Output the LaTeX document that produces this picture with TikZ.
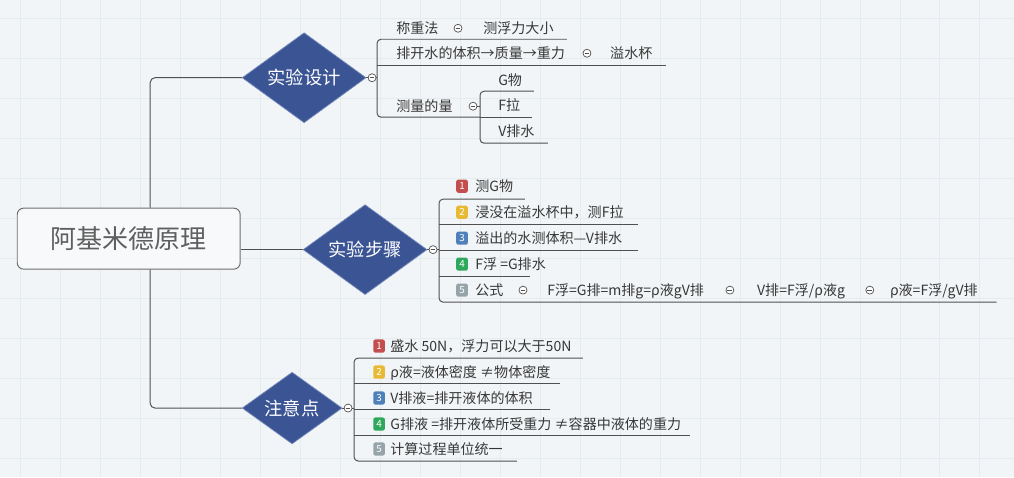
\documentclass[tikz,border=0pt]{standalone}
\usepackage{fontspec}
\setmainfont{Noto Sans CJK SC}
\usetikzlibrary{shapes.geometric}
\definecolor{bg}{RGB}{242,245,247}
\definecolor{gridc}{RGB}{230,235,239}
\definecolor{ln}{RGB}{80,80,80}
\definecolor{txt}{RGB}{55,55,55}
\definecolor{rootfill}{RGB}{247,249,250}
\definecolor{rootline}{RGB}{110,110,110}
\definecolor{roottxt}{RGB}{95,95,95}
\definecolor{dia}{RGB}{59,84,148}
\definecolor{diab}{RGB}{120,140,190}
\definecolor{bred}{RGB}{196,78,78}
\definecolor{byel}{RGB}{232,186,52}
\definecolor{bblu}{RGB}{80,128,186}
\definecolor{bgrn}{RGB}{46,168,92}
\definecolor{bgry}{RGB}{150,163,168}
\tikzset{
  conn/.style={draw=ln, line width=0.7pt},
  lbl/.style={anchor=base west, inner sep=0pt, text=txt, font=\fontsize{10pt}{12pt}\selectfont},
  rootbox/.style={draw=rootline, fill=rootfill, rounded corners=0.16cm, line width=0.7pt,
    minimum width=5.575cm, minimum height=1.525cm, text=roottxt, font=\fontsize{18.5pt}{22pt}\selectfont},
  diabox/.style={diamond, draw=diab, fill=dia, line width=0.5pt, inner sep=0pt, text=white,
    font=\fontsize{13pt}{15pt}\selectfont},
  col/.style={circle, draw=ln, fill=white, line width=0.5pt, minimum size=0.2cm, inner sep=0pt,
    path picture={\draw[ln, line width=0.5pt] ([xshift=-1.7pt]path picture bounding box.center) -- ([xshift=1.7pt]path picture bounding box.center);}},
  badge/.style={rectangle, rounded corners=1.5pt, fill=#1, minimum width=0.29cm, minimum height=0.33cm,
    inner sep=0pt, text=white, font=\fontsize{7pt}{7pt}\selectfont}
}
\begin{document}
\begin{tikzpicture}[x=0.025cm, y=-0.025cm]
\fill[bg] (0,0) rectangle (1014,477);
\foreach \gx in {20,60,...,1000} \draw[gridc, line width=0.4pt] (\gx,0) -- (\gx,477);
\foreach \gy in {18,58,...,477} \draw[gridc, line width=0.4pt] (0,\gy) -- (1014,\gy);
\useasboundingbox (0,0) rectangle (1014,477);

% root and main topics
\node[rootbox] (root) at (128.5,238.5) {阿基米德原理};
\node[diabox, minimum width=3.1cm, minimum height=1.725cm] (d1) at (304,77.5) {实验设计};
\node[diabox, minimum width=3.1cm, minimum height=1.725cm] (d2) at (365,249.5) {实验步骤};
\node[diabox, minimum width=2.5cm, minimum height=1.55cm] (d3) at (292,408) {注意点};

\coordinate (t1) at (150,77.5);
\coordinate (t3) at (150,408);
\draw[conn, rounded corners=0.12cm] (root.north -| t1) |- (d1.west);
\draw[conn, rounded corners=0.12cm] (root.south -| t3) |- (d3.west);
\draw[conn] (root.east |- d2.west) -- (d2.west);

% collapse circles at main topics
\node[col] (c1) at (372,77.5) {};
\node[col] (c2) at (433,249.5) {};
\node[col] (c3) at (348,408) {};
\coordinate (k1) at (377,77.5);
\coordinate (k2) at (439,249.5);
\coordinate (k3) at (354,408);
\draw[conn] (d1.east) -- (c1); \draw[conn] (c1) -- (k1);
\draw[conn] (d2.east) -- (c2); \draw[conn] (c2) -- (k2);
\draw[conn] (d3.east) -- (c3); \draw[conn] (c3) -- (k3);

% ---------- branch 1: 实验设计
\draw[conn, rounded corners=0.1cm] (567,39) -- (377,39) -- (377,117) -- (480,117);
\draw[conn] (377,65) -- (666,65);
\node[lbl] (a1) at (396,33) {称重法};
\node[col] (ca1) at (458,28) {};
\node[lbl] (a1b) at (483,33) {测浮力大小};
\node[lbl] (a2) at (396,58) {排开水的体积→质量→重力};
\node[col] (ca2) at (587,53) {};
\node[lbl] (a2b) at (610,58) {溢水杯};
\node[lbl] (a3) at (396,111) {测量的量};
\node[col] (ca3) at (473,106) {};
\coordinate (ka3) at (480,106);
\draw[conn] (ca3) -- (ka3);
\draw[conn, rounded corners=0.1cm] (534,91) -- (480,91) -- (480,143) -- (548,143);
\draw[conn] (480,117) -- (532,117);
\node[lbl] (g1) at (498,85) {G物};
\node[lbl] (g2) at (498,110) {F拉};
\node[lbl] (g3) at (498,136) {V排水};

% ---------- branch 2: 实验步骤
\draw[conn, rounded corners=0.1cm] (525,199) -- (439,199) -- (439,302) -- (997,302);
\draw[conn] (439,224) -- (638,224);
\draw[conn] (439,250) -- (638,250);
\draw[conn] (439,276) -- (530,276);
\node[badge=bred] (s1b) at (462,186) {1};
\node[lbl] (s1) at (475,191) {测G物};
\node[badge=byel] (s2b) at (462,212) {2};
\node[lbl] (s2) at (475,217) {浸没在溢水杯中，测F拉};
\node[badge=bblu] (s3b) at (462,238) {3};
\node[lbl] (s3) at (475,243) {溢出的水测体积—V排水};
\node[badge=bgrn] (s4b) at (462,264) {4};
\node[lbl] (s4) at (475,269) {F浮 =G排水};
\node[badge=bgry] (s5b) at (462,290) {5};
\node[lbl] (s5) at (475,295) {公式};
\node[col] (cs1) at (523,290) {};
\node[lbl] (f1) at (547,295) {F浮=G排=m排g=ρ液gV排};
\node[col] (cs2) at (730,290) {};
\node[lbl] (f2) at (757,295) {V排=F浮/ρ液g};
\node[col] (cs3) at (870,290) {};
\node[lbl] (f3) at (890,295) {ρ液=F浮/gV排};

% ---------- branch 3: 注意点
\draw[conn, rounded corners=0.1cm] (583,358) -- (354,358) -- (354,461) -- (517,461);
\draw[conn] (354,383) -- (560,383);
\draw[conn] (354,409) -- (550,409);
\draw[conn] (354,435) -- (690,435);
\node[badge=bred] (n1b) at (379,346) {1};
\node[lbl] (n1) at (390,351) {盛水 50N，浮力可以大于50N};
\node[badge=byel] (n2b) at (379,372) {2};
\node[lbl] (n2) at (390,377) {ρ液=液体密度 ≠物体密度};
\node[badge=bblu] (n3b) at (379,398) {3};
\node[lbl] (n3) at (390,403) {V排液=排开液体的体积};
\node[badge=bgrn] (n4b) at (379,424) {4};
\node[lbl] (n4) at (390,429) {G排液 =排开液体所受重力 ≠容器中液体的重力};
\node[badge=bgry] (n5b) at (379,449) {5};
\node[lbl] (n5) at (390,454) {计算过程单位统一};
\end{tikzpicture}
\end{document}
